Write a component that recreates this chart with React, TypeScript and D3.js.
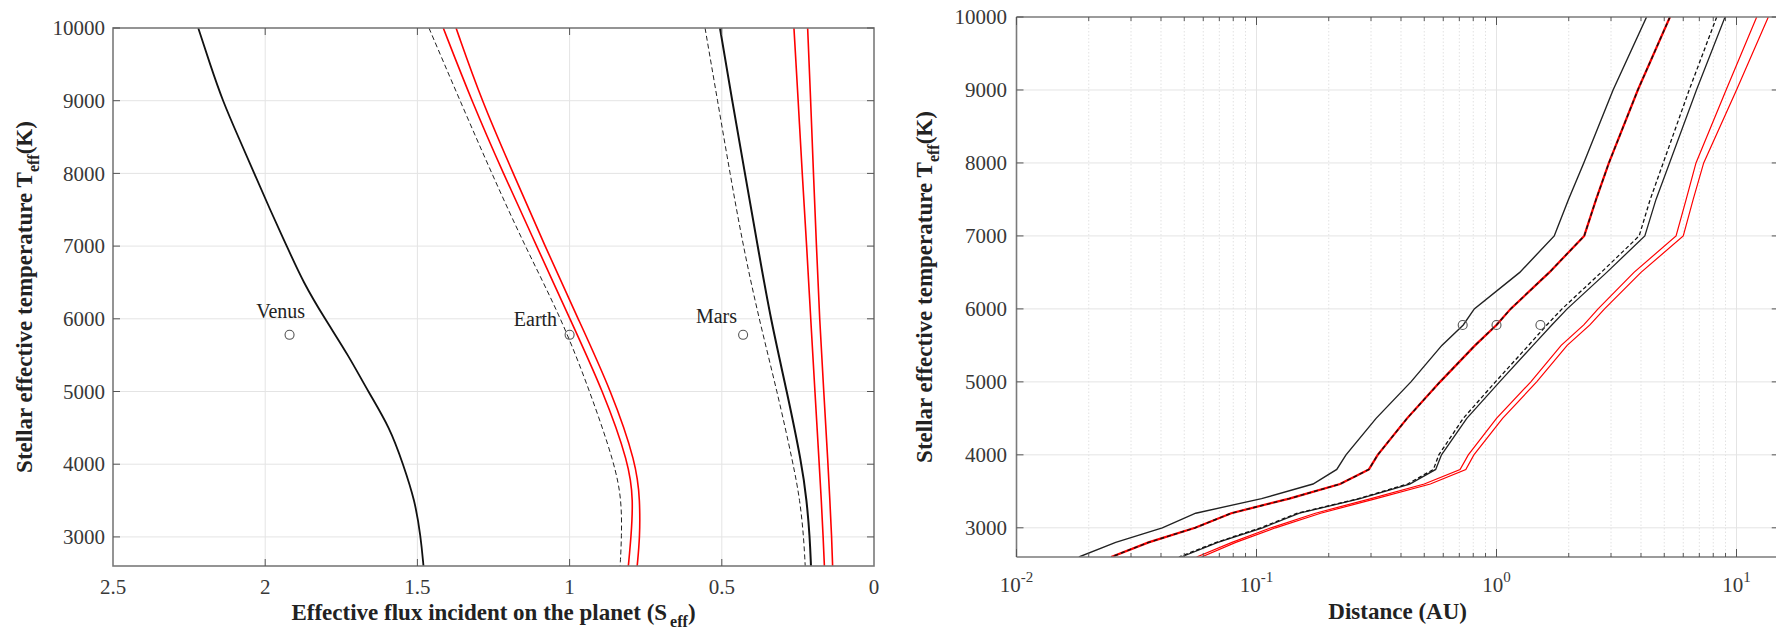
import React from 'react';
import * as d3 from 'd3';

const W = 1776;
const H = 633;
const FONT = '"Liberation Serif", "Times New Roman", serif';

// ---------- Left panel: effective flux vs stellar temperature ----------
const venusTemps = [10000, 9500, 9000, 8500, 8000, 7500, 7000, 6500, 6000, 5500, 5000, 4500, 4000, 3500, 3000, 2600];
const venusFlux = [2.22, 2.181, 2.14, 2.088, 2.036, 1.984, 1.929, 1.875, 1.804, 1.727, 1.662, 1.59, 1.547, 1.508, 1.489, 1.48];

const leftTemps = [10000, 9000, 8000, 7000, 6000, 5000, 4000, 3500, 3000, 2600];
const earthDashedFlux = [1.462, 1.36, 1.256, 1.147, 1.026, 0.933, 0.851, 0.829, 0.829, 0.834];
const earthRedInnerFlux = [1.415, 1.322, 1.218, 1.108, 0.999, 0.889, 0.804, 0.791, 0.798, 0.807];
const earthRedOuterFlux = [1.373, 1.289, 1.185, 1.081, 0.972, 0.862, 0.78, 0.769, 0.769, 0.778];
const marsDashedFlux = [0.555, 0.514, 0.473, 0.43, 0.378, 0.318, 0.265, 0.243, 0.231, 0.226];
const marsSolidFlux = [0.506, 0.466, 0.424, 0.382, 0.34, 0.286, 0.237, 0.221, 0.211, 0.207];
const farRedInnerFlux = [0.263, 0.249, 0.236, 0.221, 0.208, 0.194, 0.18, 0.173, 0.167, 0.163];
const farRedOuterFlux = [0.218, 0.208, 0.199, 0.189, 0.179, 0.165, 0.151, 0.145, 0.139, 0.136];

const fluxTicks = [2.5, 2, 1.5, 1, 0.5, 0];
const fluxTickLabels = ['2.5', '2', '1.5', '1', '0.5', '0'];
const tempTicks = [3000, 4000, 5000, 6000, 7000, 8000, 9000, 10000];

const planetNames = ['Venus', 'Earth', 'Mars'];
const planetFlux = [1.92, 1.0, 0.43];
const planetDist = [0.723, 1.0, 1.524];
const planetTemp = 5780;
const labelFlux = [1.869, 1.041, 0.45];
const labelTemp = [6010, 5900, 5940];

// ---------- Right panel: distance vs stellar temperature ----------
const rightTemps = [10000, 9000, 8000, 7500, 7000, 6500, 6000, 5780, 5500, 5000, 4500, 4000, 3800, 3600, 3400, 3200, 3000, 2800, 2600];
const distInnerBlack = [4.22, 3.06, 2.31, 1.995, 1.74, 1.25, 0.808, 0.727, 0.592, 0.44, 0.315, 0.236, 0.216, 0.172, 0.105, 0.0558, 0.0405, 0.0259, 0.0182];
const distEarthRed = [5.28, 3.88, 2.94, 2.6, 2.32, 1.66, 1.145, 1.0, 0.814, 0.582, 0.424, 0.32, 0.294, 0.223, 0.137, 0.0785, 0.0555, 0.0355, 0.0248];
const distMarsDashed = [8.27, 6.35, 4.95, 4.37, 3.93, 2.73, 1.875, 1.62, 1.36, 0.99, 0.727, 0.575, 0.546, 0.426, 0.266, 0.148, 0.104, 0.068, 0.0475];
const distMarsSolid = [8.96, 6.81, 5.26, 4.62, 4.15, 2.88, 1.97, 1.7, 1.42, 1.03, 0.752, 0.59, 0.558, 0.435, 0.27, 0.151, 0.106, 0.069, 0.0485];
const distOuterRedInner = [12.14, 9.05, 6.78, 6.17, 5.6, 3.74, 2.65, 2.31, 1.86, 1.39, 1.0, 0.763, 0.705, 0.5, 0.3, 0.176, 0.115, 0.079, 0.0563];
const distOuterRedOuter = [13.57, 10.0, 7.3, 6.6, 6.0, 4.0, 2.82, 2.45, 1.97, 1.47, 1.06, 0.805, 0.745, 0.53, 0.315, 0.185, 0.12, 0.082, 0.059];

const distMajorTicks = [0.01, 0.1, 1, 10];
const distTickExponents = ['-2', '-1', '0', '1'];

export default function App() {
  // scales
  const xL = d3.scaleLinear().domain([2.5, 0]).range([113, 874]);
  const yL = d3.scaleLinear().domain([2600, 10000]).range([566, 28]);
  const xR = d3.scaleLog().domain([0.01, 15]).range([1016.5, 1016.5 + 240 * Math.log10(1500)]);
  const yR = d3.scaleLinear().domain([2600, 10000]).range([557, 17]);

  const lineL = (vals: number[], temps: number[]) =>
    d3.line<number>()
      .x((v) => xL(v))
      .y((_, i) => yL(temps[i]))
      .curve(d3.curveBasis)(vals) || '';
  const lineR = (vals: number[]) =>
    d3.line<number>()
      .x((v) => xR(v))
      .y((_, i) => yR(rightTemps[i]))(vals) || '';

  const leftSeries = [
    { vals: venusFlux, temps: venusTemps, color: '#111', w: 1.8, dash: undefined },
    { vals: earthDashedFlux, temps: leftTemps, color: '#222', w: 1, dash: '5,3' },
    { vals: earthRedInnerFlux, temps: leftTemps, color: '#ff0000', w: 1.6, dash: undefined },
    { vals: earthRedOuterFlux, temps: leftTemps, color: '#ff0000', w: 1.6, dash: undefined },
    { vals: marsDashedFlux, temps: leftTemps, color: '#222', w: 1, dash: '5,3' },
    { vals: marsSolidFlux, temps: leftTemps, color: '#111', w: 2, dash: undefined },
    { vals: farRedInnerFlux, temps: leftTemps, color: '#ff0000', w: 1.6, dash: undefined },
    { vals: farRedOuterFlux, temps: leftTemps, color: '#ff0000', w: 1.6, dash: undefined },
  ];
  const rightSeries = [
    { vals: distInnerBlack, color: '#222', w: 1.4, dash: undefined },
    { vals: distEarthRed, color: '#ff0000', w: 2.2, dash: undefined },
    { vals: distEarthRed, color: '#111', w: 1.4, dash: '4,3' },
    { vals: distMarsSolid, color: '#222', w: 1.3, dash: undefined },
    { vals: distMarsDashed, color: '#111', w: 1.3, dash: '4,2.5' },
    { vals: distOuterRedInner, color: '#ff0000', w: 1.2, dash: undefined },
    { vals: distOuterRedOuter, color: '#ff0000', w: 1.2, dash: undefined },
  ];

  const [lx0, lx1] = xL.range();
  const [ly0, ly1] = yL.range(); // bottom, top
  const [rx0, rx1] = xR.range();
  const [ry0, ry1] = yR.range();

  const gridColor = '#e4e4e4';
  const frameColor = '#7a7a7a';
  const tickColor = '#555';
  const textColor = '#383838';

  // minor log ticks
  const minorR: number[] = [];
  for (let k = -2; k <= 1; k++) {
    for (let m = 2; m <= 9; m++) {
      const v = m * Math.pow(10, k);
      if (v < 15) minorR.push(v);
    }
  }

  const tickLen = 7;

  return (
    <svg width={W} height={H} style={{ position: 'absolute', left: 0, top: 0, background: '#fff' }} fontFamily={FONT}>
      <rect x={0} y={0} width={W} height={H} fill="#fff" />
      <defs>
        <clipPath id="clipL"><rect x={lx0} y={ly1} width={lx1 - lx0} height={ly0 - ly1} /></clipPath>
        <clipPath id="clipR"><rect x={rx0} y={ry1} width={rx1 - rx0} height={ry0 - ry1} /></clipPath>
      </defs>

      {/* ===== LEFT PANEL ===== */}
      <g>
        {fluxTicks.filter((v) => v > 0 && v < 2.5).map((v) => (
          <line key={'gvl' + v} x1={xL(v)} x2={xL(v)} y1={ly1} y2={ly0} stroke={gridColor} strokeWidth={1} />
        ))}
        {tempTicks.filter((t) => t < 10000).map((t) => (
          <line key={'ghl' + t} x1={lx0} x2={lx1} y1={yL(t)} y2={yL(t)} stroke={gridColor} strokeWidth={1} />
        ))}
        <g clipPath="url(#clipL)">
          {leftSeries.map((s, i) => (
            <path key={'ls' + i} d={lineL(s.vals, s.temps)} fill="none" stroke={s.color} strokeWidth={s.w} strokeDasharray={s.dash} />
          ))}
        </g>
        {planetNames.map((n, i) => (
          <g key={'pl' + n}>
            <circle cx={xL(planetFlux[i])} cy={yL(planetTemp)} r={4.5} fill="none" stroke="#555" strokeWidth={1.1} />
            <text x={xL(labelFlux[i])} y={yL(labelTemp[i])} textAnchor="end" fontSize={20} fill="#222">{n}</text>
          </g>
        ))}
        <rect x={lx0} y={ly1} width={lx1 - lx0} height={ly0 - ly1} fill="none" stroke={frameColor} strokeWidth={1.6} />
        {fluxTicks.filter((v) => v > 0 && v < 2.5).map((v) => (
          <g key={'tl' + v}>
            <line x1={xL(v)} x2={xL(v)} y1={ly0} y2={ly0 - tickLen} stroke={tickColor} strokeWidth={1} />
            <line x1={xL(v)} x2={xL(v)} y1={ly1} y2={ly1 + tickLen} stroke={tickColor} strokeWidth={1} />
          </g>
        ))}
        {tempTicks.map((t) => (
          <g key={'ty' + t}>
            <line x1={lx0} x2={lx0 + tickLen} y1={yL(t)} y2={yL(t)} stroke={tickColor} strokeWidth={1} />
            <line x1={lx1} x2={lx1 - tickLen} y1={yL(t)} y2={yL(t)} stroke={tickColor} strokeWidth={1} />
            <text x={105} y={yL(t)} dy="0.34em" textAnchor="end" fontSize={21} fill={textColor}>{t}</text>
          </g>
        ))}
        {fluxTicks.map((v, i) => (
          <text key={'xl' + v} x={xL(v)} y={594} textAnchor="middle" fontSize={21} fill={textColor}>{fluxTickLabels[i]}</text>
        ))}
        <text x={(lx0 + lx1) / 2} y={620} textAnchor="middle" fontSize={23} fontWeight="bold" fill="#222">
          <tspan>Effective flux incident on the planet (S</tspan>
          <tspan dx={3} dy={7} fontSize={16}>eff</tspan>
          <tspan dy={-7}>)</tspan>
        </text>
        <text transform={`translate(32, ${(ly0 + ly1) / 2}) rotate(-90)`} textAnchor="middle" fontSize={23} fontWeight="bold" fill="#222">
          <tspan>Stellar effective temperature T</tspan>
          <tspan dy={7} fontSize={16}>eff</tspan>
          <tspan dy={-7}>(K)</tspan>
        </text>
      </g>

      {/* ===== RIGHT PANEL ===== */}
      <g>
        {minorR.map((v) => (
          <line key={'gmr' + v} x1={xR(v)} x2={xR(v)} y1={ry1} y2={ry0} stroke="#e2e2e2" strokeWidth={1} strokeDasharray="1.5,2" />
        ))}
        {distMajorTicks.filter((v) => v > 0.01).map((v) => (
          <line key={'gMr' + v} x1={xR(v)} x2={xR(v)} y1={ry1} y2={ry0} stroke={gridColor} strokeWidth={1} />
        ))}
        {tempTicks.filter((t) => t < 10000).map((t) => (
          <line key={'ghr' + t} x1={rx0} x2={rx1} y1={yR(t)} y2={yR(t)} stroke={gridColor} strokeWidth={1} />
        ))}
        <g clipPath="url(#clipR)">
          {rightSeries.map((s, i) => (
            <path key={'rs' + i} d={lineR(s.vals)} fill="none" stroke={s.color} strokeWidth={s.w} strokeDasharray={s.dash} />
          ))}
        </g>
        {planetNames.map((n, i) => (
          <circle key={'pr' + n} cx={xR(planetDist[i])} cy={yR(planetTemp)} r={4.5} fill="none" stroke="#555" strokeWidth={1.1} />
        ))}
        <line x1={rx0} x2={rx1} y1={ry1} y2={ry1} stroke={frameColor} strokeWidth={1.6} />
        <line x1={rx0} x2={rx1} y1={ry0} y2={ry0} stroke={frameColor} strokeWidth={1.6} />
        <line x1={rx0} x2={rx0} y1={ry1} y2={ry0} stroke={frameColor} strokeWidth={1.6} />
        <line x1={rx1} x2={rx1} y1={ry1} y2={ry0} stroke={frameColor} strokeWidth={1.6} />
        {minorR.map((v) => (
          <g key={'tmr' + v}>
            <line x1={xR(v)} x2={xR(v)} y1={ry0} y2={ry0 - 4} stroke={tickColor} strokeWidth={1} />
            <line x1={xR(v)} x2={xR(v)} y1={ry1} y2={ry1 + 4} stroke={tickColor} strokeWidth={1} />
          </g>
        ))}
        {distMajorTicks.map((v, i) => (
          <g key={'tMr' + v}>
            <line x1={xR(v)} x2={xR(v)} y1={ry0} y2={ry0 - 8} stroke={tickColor} strokeWidth={1} />
            <line x1={xR(v)} x2={xR(v)} y1={ry1} y2={ry1 + 8} stroke={tickColor} strokeWidth={1} />
            <text x={xR(v)} y={592} textAnchor="middle" fontSize={21} fill={textColor}>
              <tspan>10</tspan>
              <tspan dy={-10} fontSize={15}>{distTickExponents[i]}</tspan>
            </text>
          </g>
        ))}
        {tempTicks.map((t) => (
          <g key={'tyr' + t}>
            <line x1={rx0} x2={rx0 + tickLen} y1={yR(t)} y2={yR(t)} stroke={tickColor} strokeWidth={1} />
            <line x1={rx1} x2={rx1 - tickLen} y1={yR(t)} y2={yR(t)} stroke={tickColor} strokeWidth={1} />
            <text x={1007} y={yR(t)} dy="0.34em" textAnchor="end" fontSize={21} fill={textColor}>{t}</text>
          </g>
        ))}
        <text x={(rx0 + rx1) / 2} y={619} textAnchor="middle" fontSize={23} fontWeight="bold" fill="#222">Distance (AU)</text>
        <text transform={`translate(932, ${(ry0 + ry1) / 2}) rotate(-90)`} textAnchor="middle" fontSize={23} fontWeight="bold" fill="#222">
          <tspan>Stellar effective temperature T</tspan>
          <tspan dy={7} fontSize={16}>eff</tspan>
          <tspan dy={-7}>(K)</tspan>
        </text>
      </g>
    </svg>
  );
}
